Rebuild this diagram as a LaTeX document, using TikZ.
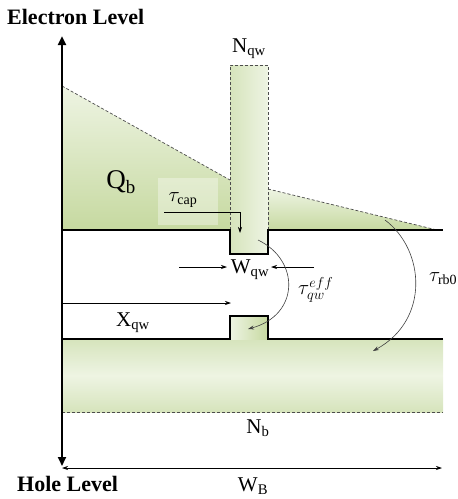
\documentclass[tikz,border=0pt]{standalone}
\usepackage{fontspec}
\setmainfont{Liberation Serif}
\usetikzlibrary{arrows.meta,shadings}
\definecolor{gdark}{HTML}{C6D9A0}
\definecolor{glight}{HTML}{EEF4E3}
\definecolor{gmid}{HTML}{D6E4BC}
\tikzset{
  thickline/.style={line width=2.6pt},
  axisline/.style={line width=2.6pt,-{Triangle[length=9pt,width=8pt]}},
  dashline/.style={densely dashed,line width=0.7pt,black!70},
  thinarrow/.style={line width=0.7pt,-{Stealth[length=6pt,width=4pt]}},
  curvearrow/.style={line width=0.6pt,black!75,-{Stealth[length=6pt,width=4pt]}},
  lbl/.style={inner sep=1pt,font=\fontsize{21}{21}\selectfont},
  mlbl/.style={inner sep=0pt,font=\fontsize{20}{20}\selectfont},
  biglbl/.style={inner sep=0pt,font=\bfseries\fontsize{22}{22}\selectfont},
}
\begin{document}
\begin{tikzpicture}[x=1pt,y=-1pt]
\useasboundingbox (0,0) rectangle (458,499);
% upper fills
\shade[top color=glight,bottom color=gdark] (62,86) -- (230,180) -- (230,230) -- (62,230) -- cycle;
\shade[top color=glight,bottom color=gdark] (268,189) -- (437,230) -- (268,230) -- cycle;
\shade[left color=gmid,right color=glight] (230,65) rectangle (268,254);
% tau_cap faint box
\fill[white,opacity=0.35] (158,178) rectangle (218,225);
% lower fills
\shade[top color=gmid,bottom color=gmid,middle color=glight] (62,339) rectangle (443,412);
\shade[left color=glight,right color=gdark] (230,316) rectangle (268,339);
% dashed lines
\draw[dashline] (62,86) -- (230,180);
\draw[dashline] (268,189) -- (437,230);
\draw[dashline] (230,230) -- (230,65) -- (268,65) -- (268,230);
\draw[dashline] (62,412) -- (443,412);
% thick lines
\draw[thickline] (62,230) -- (230,230) -- (230,254) -- (268,254) -- (268,230) -- (443,230);
\draw[thickline] (62,339) -- (230,339) -- (230,316) -- (268,316) -- (268,339) -- (443,339);
% axes
\coordinate (org) at (62,340);
\coordinate (etop) at (62,36);
\coordinate (hbot) at (62,466);
\draw[axisline] (org) -- (etop);
\draw[axisline] (org) -- (hbot);
% labels
\node[biglbl,anchor=west] (elev) at (7,17) {Electron Level};
\node[biglbl,anchor=west] (hlev) at (17,484) {Hole Level};
\node[lbl] (nqw) at (249,49) {N\textsubscript{qw}};
\node[inner sep=0pt,font=\fontsize{27}{27}\selectfont] (qb) at (121,182) {Q\textsubscript{b}};
\node[mlbl] (tcap) at (183,200) {$\tau_{\mathrm{cap}}$};
\node[lbl,inner sep=0pt] (wqw) at (250,270) {W\textsubscript{qw}};
\node[mlbl,anchor=west] (teff) at (298,290) {$\tau_{qw}^{eff}$};
\node[mlbl,anchor=west] (trb) at (429,279) {$\tau_{\mathrm{rb0}}$};
\node[lbl] (xqw) at (133,323) {X\textsubscript{qw}};
\node[lbl] (nb) at (258,428) {N\textsubscript{b}};
\node[lbl] (wb) at (253,486) {W\textsubscript{B}};
% tau_cap arrow
\coordinate (tc1) at (164,212);
\coordinate (tc2) at (240,212);
\coordinate (tc3) at (240,233);
\draw[thinarrow] (tc1) -- (tc2) -- (tc3);
% W_qw arrows
\coordinate (wl) at (179,267);
\coordinate (wr) at (314,267);
\coordinate (wli) at (227,267);
\coordinate (wri) at (271,267);
\draw[thinarrow] (wl) -- (wli);
\draw[thinarrow] (wr) -- (wri);
% X_qw arrow
\coordinate (xs) at (62,303);
\coordinate (xe) at (231,303);
\draw[thinarrow] (xs) -- (xe);
% W_B arrow
\coordinate (wbl) at (62,468);
\coordinate (wbr) at (442,468);
\draw[line width=0.7pt,{Stealth[length=6pt,width=4pt]}-{Stealth[length=6pt,width=4pt]}] (wbl) -- (wbr);
% curved arrows
\coordinate (e1) at (258,240);
\coordinate (e2) at (248,329);
\draw[curvearrow] (e1) .. controls (300,260) and (300,315) .. (e2);
\coordinate (r1) at (385,220);
\coordinate (r2) at (373,351);
\draw[curvearrow] (r1) .. controls (425,250) and (430,320) .. (r2);
\end{tikzpicture}
\end{document}
